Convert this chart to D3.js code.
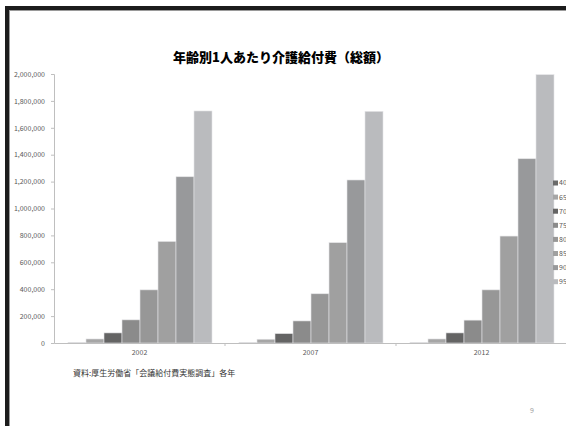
<!DOCTYPE html>
<html>
<head>
<meta charset="utf-8">
<script src="https://cdn.jsdelivr.net/npm/d3@7"></script>
<style>
  html, body { margin: 0; padding: 0; background: #fff; overflow: hidden; }
  svg { display: block; }
</style>
</head>
<body>
<svg id="chart" width="566" height="426"></svg>
<script>
// Per-capita long-term care benefits by age group (yen)
const years = ["2002", "2007", "2012"];
const ageGroups = ["40", "65", "70", "75", "80", "85", "90", "95"];
const values2002 = [4000, 30000, 75000, 172000, 395000, 755000, 1236000, 1725000];
const values2007 = [4000, 28000, 70000, 164000, 366000, 746000, 1212000, 1722000];
const values2012 = [4000, 30000, 75000, 170000, 395000, 795000, 1370000, 1995000];
const seriesByYear = [values2002, values2007, values2012];
const ageColors = ["#6a6a6a", "#a6a6a6", "#646464", "#8b8b8b", "#979797", "#a0a0a0", "#98999b", "#babbbe"];
const yTicks = [0, 200000, 400000, 600000, 800000, 1000000, 1200000, 1400000, 1600000, 1800000, 2000000];
const titleText = "年齢別1人あたり介護給付費（総額）";
const sourceText = "資料:厚生労働省「会議給付費実態調査」各年";
const pageNumber = "9";

const svg = d3.select("#chart");
const font = "'Noto Sans CJK JP', 'Noto Sans', sans-serif";

// slide frame
svg.append("rect").attr("x", 5).attr("y", 6).attr("width", 561).attr("height", 4).attr("fill", "#1c1c1c");
svg.append("rect").attr("x", 5).attr("y", 6).attr("width", 4).attr("height", 420).attr("fill", "#1c1c1c");
svg.append("rect").attr("x", 9).attr("y", 10).attr("width", 557).attr("height", 1).attr("fill", "#9a9a9a");
svg.append("rect").attr("x", 9).attr("y", 10).attr("width", 1).attr("height", 416).attr("fill", "#9a9a9a");

const x0 = d3.scaleBand().domain(years).range([54, 567]).paddingInner(0).paddingOuter(0);
const x1 = d3.scaleBand().domain(ageGroups).range([14, 158]).paddingInner(0);
const y = d3.scaleLinear().domain([0, 2000000]).range([343, 74]);

// bars
const groups = svg.append("g").selectAll("g")
  .data(years)
  .join("g")
  .attr("transform", d => `translate(${x0(d)},0)`);

groups.selectAll("rect")
  .data((d, i) => seriesByYear[i].map((v, j) => ({ age: ageGroups[j], v, c: ageColors[j] })))
  .join("rect")
  .attr("x", d => x1(d.age))
  .attr("y", d => y(d.v))
  .attr("width", x1.bandwidth())
  .attr("height", d => y(0) - y(d.v))
  .attr("fill", d => d.c)
  .attr("stroke", "#e4e4e6")
  .attr("stroke-width", 0.6);

// y axis
const yAxis = d3.axisLeft(y).tickValues(yTicks).tickSize(3).tickPadding(6)
  .tickFormat(d3.format(","));
const gy = svg.append("g").attr("transform", "translate(54,0)").call(yAxis);
gy.select(".domain").attr("stroke", "#bfbfbf");
gy.selectAll(".tick line").attr("stroke", "#bfbfbf");
gy.selectAll("text").attr("fill", "#595959").style("font-family", font).style("font-size", "7px");

// x axis
const xAxis = d3.axisBottom(x0).tickSize(0).tickPadding(7);
const gx = svg.append("g").attr("transform", "translate(0,343)").call(xAxis);
gx.select(".domain").attr("stroke", "#bfbfbf");
gx.selectAll("text").attr("fill", "#595959").style("font-family", font).style("font-size", "7px");
gx.selectAll(".sep")
  .data(years.slice(1))
  .join("line")
  .attr("class", "sep")
  .attr("x1", d => x0(d)).attr("x2", d => x0(d))
  .attr("y1", 0).attr("y2", 3)
  .attr("stroke", "#bfbfbf");

// legend
const legend = svg.append("g").selectAll("g")
  .data(ageGroups)
  .join("g")
  .attr("transform", (d, i) => `translate(553,${183 + i * 14.1})`);
legend.append("rect").attr("x", 0).attr("y", -2.5).attr("width", 5).attr("height", 5)
  .attr("fill", (d, i) => ageColors[i]);
legend.append("text").attr("x", 6).attr("y", 0).attr("dy", "0.35em")
  .attr("fill", "#595959").style("font-family", font).style("font-size", "7px")
  .text(d => d);

// title
svg.append("text").attr("x", 281).attr("y", 62).attr("text-anchor", "middle")
  .style("font-family", font).style("font-weight", "900").style("font-size", "13px")
  .attr("fill", "#000").text(titleText);

// source note
svg.append("text").attr("x", 73).attr("y", 376)
  .style("font-family", font).style("font-size", "8px").attr("fill", "#333")
  .text(sourceText);

// page number
svg.append("text").attr("x", 532).attr("y", 413).attr("text-anchor", "middle")
  .style("font-family", font).style("font-size", "7px").attr("fill", "#9a9a9a")
  .text(pageNumber);
</script>
</body>
</html>
